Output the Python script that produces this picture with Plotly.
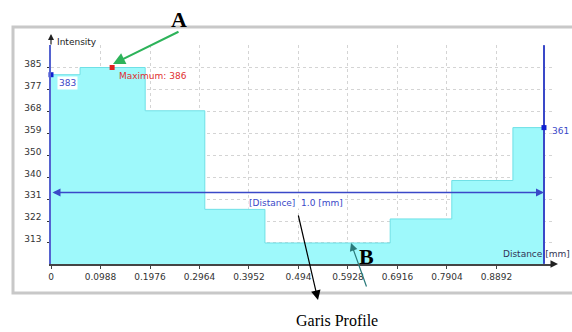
import plotly.graph_objects as go

# ---- data ----
step_edges = [0, 0.058, 0.188, 0.307, 0.427, 0.677, 0.800, 0.922, 0.984]
step_values = [383, 386, 368, 327, 313, 323, 339, 361]
x_tickvals = [0, 0.0988, 0.1976, 0.2964, 0.3952, 0.494, 0.5928, 0.6916, 0.7904, 0.8892]
x_ticktext = ["0", "0.0988", "0.1976", "0.2964", "0.3952", "0.494", "0.5928", "0.6916", "0.7904", "0.8892"]
y_tickvals = [313, 322.1, 331.2, 340.3, 349.4, 358.5, 367.6, 376.7, 385.8]
y_ticktext = ["313", "322", "331", "340", "350", "359", "368", "377", "385"]
max_x, max_val = 0.122, 386
start_val, end_val = 383, 361
distance_level = 334
distance_end = 0.984

W, H = 572, 332
def px(x): return x / W
def py(y): return 1 - y / H

BLUE = "#3a48c8"
fig = go.Figure()

fig.add_trace(go.Scatter(
    x=step_edges, y=step_values + [step_values[-1]],
    mode="lines", line=dict(shape="hv", color="#6fe0e6", width=1),
    fill="tozeroy", fillcolor="#9ef9fb", hoverinfo="skip", showlegend=False))

# vertical end line
fig.add_trace(go.Scatter(x=[distance_end, distance_end], y=[304.3, 395.3], mode="lines",
                         line=dict(color=BLUE, width=2), showlegend=False, hoverinfo="skip"))
# markers
fig.add_trace(go.Scatter(x=[0, distance_end], y=[start_val, end_val], mode="markers",
                         marker=dict(symbol="square", size=5, color="#1020d0"),
                         showlegend=False, cliponaxis=False))
fig.add_trace(go.Scatter(x=[max_x], y=[max_val], mode="markers",
                         marker=dict(symbol="square", size=5, color="#e02020"),
                         showlegend=False, cliponaxis=False))

shapes = [
    dict(type="rect", xref="paper", yref="paper", x0=px(13), x1=px(600), y0=py(293), y1=py(27),
         line=dict(color="#c8c8c8", width=3), fillcolor="rgba(0,0,0,0)", layer="below"),
    dict(type="line", x0=0, x1=distance_end, y0=max_val, y1=max_val, xref="x", yref="y",
         line=dict(color="#e8b0b0", width=1, dash="dot"), layer="below"),
]

def txt(x, y, text, size=9, color="#222", family="DejaVu Sans", xanchor="center", **kw):
    return dict(x=px(x), y=py(y), xref="paper", yref="paper", text=text, showarrow=False,
                xanchor=xanchor, yanchor="middle", font=dict(family=family, size=size, color=color), **kw)

def arrow(hx, hy, tx, ty, color, width, size):
    return dict(x=px(hx), y=py(hy), ax=tx - hx, ay=ty - hy, xref="paper", yref="paper", text="",
                showarrow=True, arrowhead=2, arrowsize=size, arrowwidth=width, arrowcolor=color)

ann = []
# distance arrow
ann.append(dict(x=distance_end, y=distance_level, ax=0, ay=distance_level, xref="x", yref="y",
                axref="x", ayref="y", text="", showarrow=True, arrowside="end+start",
                arrowhead=2, arrowsize=1, arrowwidth=1.6, arrowcolor=BLUE))
ann.append(txt(296, 203, "[Distance]  1.0 [mm]", color=BLUE, bgcolor="white", borderpad=0))
ann.append(dict(x=0.012, y=start_val, xref="x", yref="y", xanchor="left", yanchor="top",
                text="383", showarrow=False, font=dict(family="DejaVu Sans", size=9, color=BLUE),
                bgcolor="white", borderpad=1, yshift=-1))
ann.append(dict(x=max_x + 0.01, y=max_val, xref="x", yref="y", xanchor="left", yanchor="top",
                text="Maximum: 386", showarrow=False,
                font=dict(family="DejaVu Sans", size=9, color="#e03030"), yshift=-1))
ann.append(txt(550, 131, "361", color=BLUE, xanchor="left"))
ann.append(txt(55, 42, "Intensity", xanchor="left"))
ann.append(txt(501, 254, "Distance [mm]", color="#335", xanchor="left"))
# axis arrows
ann.append(arrow(51, 34, 51, 46, "#222", 1.2, 1))
ann.append(arrow(558, 264, 550, 264, "#222", 1.5, 1))
# callouts
serif = "Liberation Serif"
ann.append(txt(179, 20, "<b>A</b>", size=22, color="black", family=serif))
ann.append(arrow(113, 64, 180, 31, "#2db35a", 2, 1.2))
ann.append(txt(366, 256, "<b>B</b>", size=22, color="black", family=serif))
ann.append(arrow(351, 243, 367, 288, "#2a7a7a", 1.2, 1.3))
ann.append(arrow(318, 300, 298, 214, "black", 1.2, 1.6))
ann.append(txt(337, 320, "Garis Profile", size=16, color="black", family=serif))

fig.update_layout(
    width=W, height=H, margin=dict(l=0, r=0, t=0, b=0, autoexpand=False),
    paper_bgcolor="white", plot_bgcolor="white",
    showlegend=False, annotations=ann, shapes=shapes,
    xaxis=dict(domain=[51 / W, 553 / W], range=[0, 1.002], tickvals=x_tickvals, ticktext=x_ticktext,
               showgrid=True, gridcolor="#d4d4d4", griddash="dot", gridwidth=1,
               showline=True, linecolor="#444", linewidth=2, ticks="outside", ticklen=3,
               tickcolor="#444", tickfont=dict(family="DejaVu Sans", size=9, color="#333"),
               zeroline=False, fixedrange=True, automargin=False),
    yaxis=dict(domain=[1 - 264 / H, 1 - 45 / H], range=[304.26, 395.36], tickvals=y_tickvals,
               ticktext=y_ticktext, showgrid=True, gridcolor="#d4d4d4", griddash="dot",
               showline=True, linecolor="#5563d0", linewidth=1.5, ticks="outside", ticklen=2,
               tickcolor="#333", tickfont=dict(family="DejaVu Sans", size=9, color="#333"),
               zeroline=False, fixedrange=True, ticklabelstandoff=4, ticklabelshift=-4,
               automargin=False),
)
fig.write_html("out.html", config={"displayModeBar": False},
               post_script="document.body.style.margin='0';document.body.style.overflow='hidden';")
